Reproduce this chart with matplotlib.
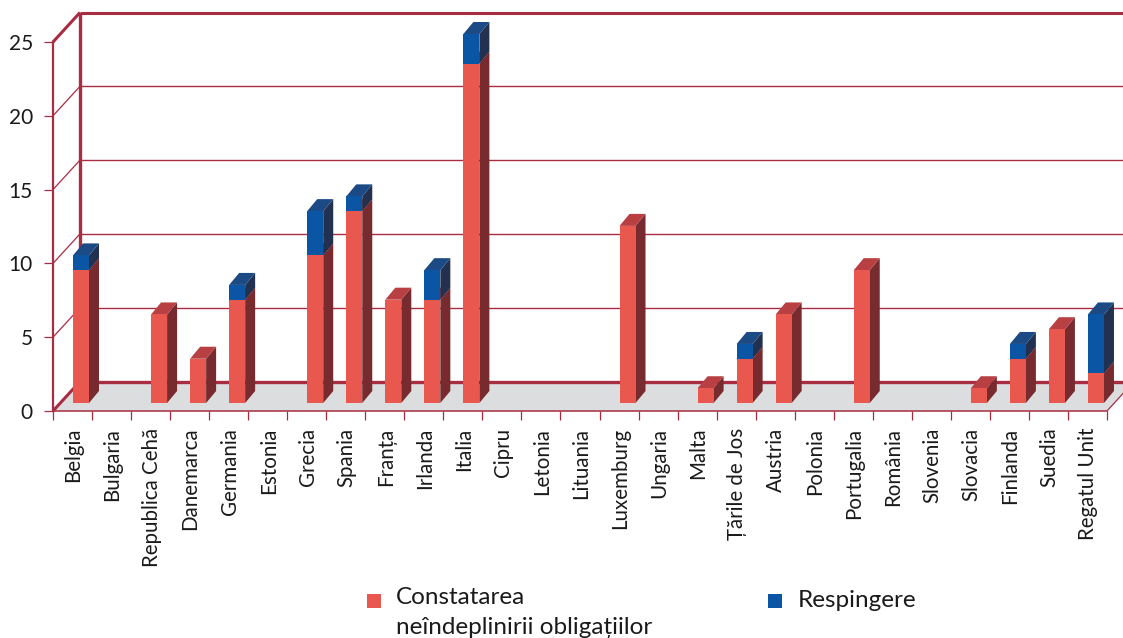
import numpy as np
import matplotlib
matplotlib.use("Agg")
import matplotlib.pyplot as plt
from matplotlib.patches import Polygon, Rectangle

plt.rcParams["font.family"] = ["Lato", "DejaVu Sans"]

tari = ["Belgia", "Bulgaria", "Republica Cehă", "Danemarca", "Germania", "Estonia",
        "Grecia", "Spania", "Franța", "Irlanda", "Italia", "Cipru", "Letonia",
        "Lituania", "Luxemburg", "Ungaria", "Malta", "Țările de Jos", "Austria",
        "Polonia", "Portugalia", "România", "Slovenia", "Slovacia", "Finlanda",
        "Suedia", "Regatul Unit"]
constatare = [9, 0, 6, 3, 7, 0, 10, 13, 7, 7, 23, 0, 0, 0, 12, 0, 1, 3, 6, 0, 9, 0, 0, 1, 3, 5, 2]
respingere = [1, 0, 0, 0, 1, 0, 3, 1, 0, 2, 2, 0, 0, 0, 0, 0, 0, 1, 0, 0, 0, 0, 0, 0, 1, 0, 4]
y_ticks = [0, 5, 10, 15, 20, 25]
legenda = ["Constatarea\nneîndeplinirii obligațiilor", "Respingere"]

W, H = 1123, 638
LINIE = "#a82c42"
ROSU = ("#e9584f", "#772b2f", "#b84043")   # fata, lateral, sus
ALBASTRU = ("#0b56a4", "#22314f", "#1c4a85")
TEXT = "#1a1a1a"

# axa din fata, in pixeli: x 53-1107, y 411-42
fig = plt.figure(figsize=(W / 100, H / 100), dpi=100)
ax = fig.add_axes([53 / W, (H - 411) / H, (1107 - 53) / W, (411 - 42) / H])
ax.set_xlim(0, len(tari))
ax.set_ylim(0, 25)
ax.patch.set_visible(False)

ux = 1054 / len(tari)  # pixeli pe categorie
uy = 369 / 25          # pixeli pe unitate
dx, dy = 27 / ux, 29.5 / uy      # adancimea peretilor
bx, by = 10 / ux, 12 / uy        # adancimea barelor
x_bara, l_bara = 20 / ux, 16 / ux
y_baza = 8 / uy
x_max = 27 + 30 / ux


def poly(pts, culoare, z=3):
    ax.add_patch(Polygon(pts, closed=True, fc=culoare, ec="none", lw=0, zorder=z, clip_on=False))


def linie(xs, ys, lw, z=2):
    ax.plot(xs, ys, color=LINIE, lw=lw, zorder=z, clip_on=False, solid_capstyle="butt")


# podea si pereti
poly([(0, 0), (27, 0), (x_max, 30 / 27 * dy), (x_max, dy), (dx, dy)], "#dcddde", z=1)
for v in y_ticks[1:-1]:
    linie([0, dx], [v, v + dy], 0.9)
    linie([dx, x_max], [v + dy, v + dy], 1.0)
linie([0, dx], [25, 25 + dy], 2.2)
linie([0, dx], [0, dy], 2.2)
linie([dx, x_max], [25 + dy, 25 + dy], 2.2)
linie([dx, x_max], [dy, dy], 2.4)
linie([dx, dx], [dy, 25 + dy], 2.4)
linie([27, x_max], [0, 30 / 27 * dy], 0.9)


def bloc(i, y0, y1, culori, z):
    x0 = i + x_bara
    x1 = x0 + l_bara
    poly([(x1, y0), (x1 + bx, y0 + by), (x1 + bx, y1 + by), (x1, y1)], culori[1], z)
    poly([(x0, y1), (x1, y1), (x1 + bx, y1 + by), (x0 + bx, y1 + by)], culori[2], z)
    poly([(x0, y0), (x1, y0), (x1, y1), (x0, y1)], culori[0], z + 0.1)


for i, (c, r) in enumerate(zip(constatare, respingere)):
    if c:
        bloc(i, y_baza, y_baza + c, ROSU, 3)
    if r:
        bloc(i, y_baza + c, y_baza + c + r, ALBASTRU, 3.5)

# axe
for s in ("top", "right"):
    ax.spines[s].set_visible(False)
ax.spines["left"].set_color(LINIE)
ax.spines["left"].set_linewidth(1.6)
ax.spines["bottom"].set_color(LINIE)
ax.spines["bottom"].set_linewidth(1.1)

ax.set_yticks(y_ticks)
ax.tick_params(axis="y", length=6.5, width=0.9, color=LINIE, labelsize=15, pad=8, labelcolor=TEXT)
ax.set_xticks(np.arange(len(tari) + 1))
ax.set_xticklabels([])
ax.set_xticks(np.arange(len(tari)) + 0.525, minor=True)
ax.set_xticklabels(tari, minor=True, rotation=90, fontsize=14.8, color=TEXT)
ax.tick_params(axis="x", which="major", length=6.5, width=0.9, color=LINIE)
ax.tick_params(axis="x", which="minor", length=0, pad=12)

# legenda: patratul ramane pe primul rand al textului
for eticheta, culoare, x_patrat, x_text, y_text in zip(legenda, (ROSU[0], ALBASTRU[0]), (367, 768), (396, 798), (587, 590)):
    fig.add_artist(Rectangle((x_patrat / W, 1 - 608 / H), 14 / W, 14 / H, fc=culoare, ec="none",
                             transform=fig.transFigure))
    fig.text(x_text / W, 1 - y_text / H, eticheta, fontsize=17.5, va="top", ha="left",
             color=TEXT, linespacing=1.5)

fig.savefig("out.png", dpi=100)
